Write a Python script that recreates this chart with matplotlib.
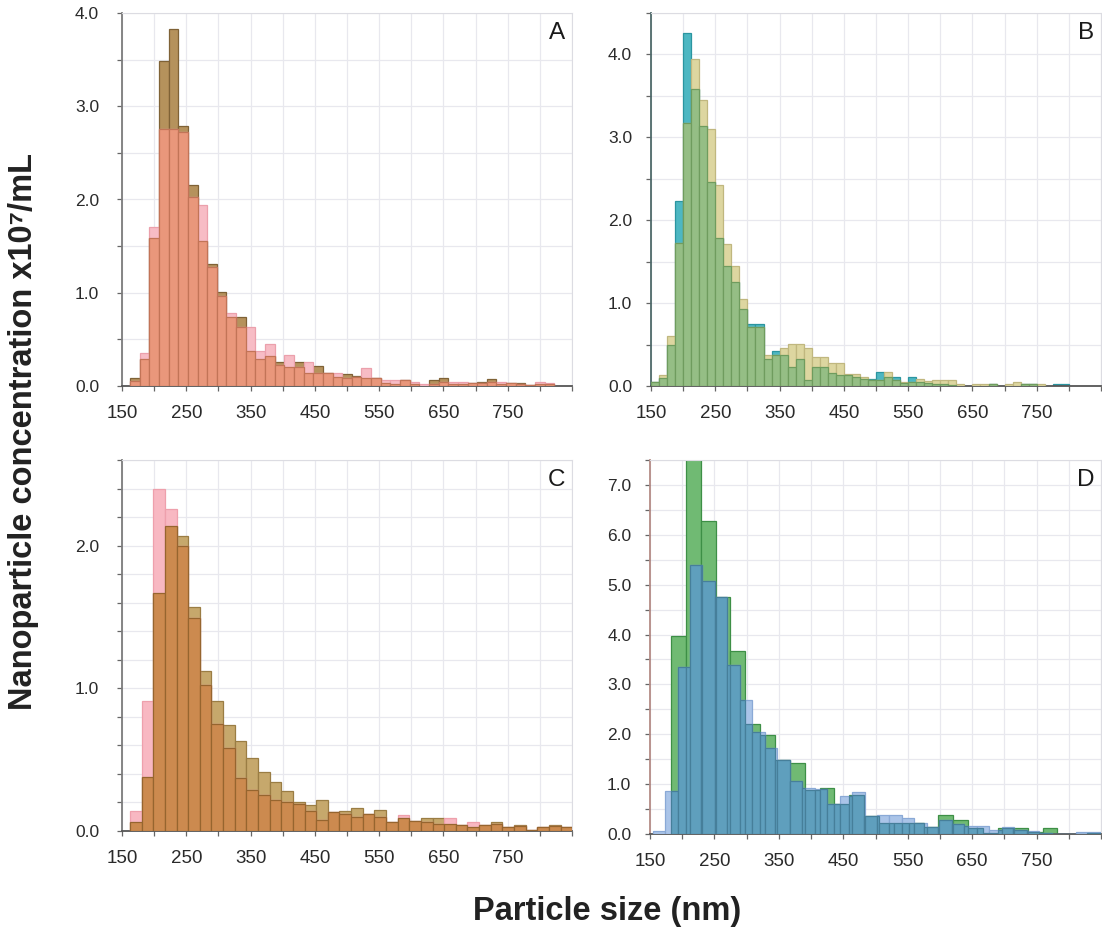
import numpy as np
import matplotlib
matplotlib.use("Agg")
import matplotlib.pyplot as plt

plt.rcParams['font.family'] = ['Liberation Sans', 'DejaVu Sans']

# ---------------- data (concentration x10^7 / mL per size bin) ----------------
# Panel A: bins of 15 nm starting at 162.5 nm
A_start, A_width = 162.5, 15.0
A_brown = [0.09, 0.29, 1.59, 3.49, 3.83, 2.79, 2.16, 1.56, 1.31, 1.01, 0.74, 0.74, 0.38, 0.29,
           0.32, 0.26, 0.20, 0.26, 0.14, 0.21, 0.14, 0.10, 0.13, 0.11, 0.09, 0.09, 0.03, 0.02,
           0.06, 0.02, 0.0, 0.06, 0.09, 0.02, 0.02, 0.03, 0.04, 0.07, 0.02, 0.03, 0.03, 0.01,
           0.02, 0.02]
A_pink = [0.05, 0.35, 1.70, 2.76, 2.76, 2.72, 2.03, 1.94, 1.28, 0.97, 0.78, 0.63, 0.63, 0.38,
          0.45, 0.22, 0.33, 0.20, 0.26, 0.14, 0.14, 0.14, 0.09, 0.10, 0.19, 0.09, 0.06, 0.06,
          0.06, 0.04, 0.02, 0.02, 0.04, 0.04, 0.04, 0.03, 0.03, 0.04, 0.04, 0.03, 0.02, 0.01,
          0.04, 0.03]

# Panel B: bins of 12.5 nm starting at 150 nm
B_start, B_width = 150.0, 12.5
B_teal = [0.05, 0.10, 0.49, 2.23, 4.26, 3.58, 3.14, 2.46, 1.79, 1.45, 1.26, 0.93, 0.75, 0.75,
          0.33, 0.42, 0.37, 0.23, 0.32, 0.07, 0.23, 0.23, 0.16, 0.13, 0.13, 0.11, 0.09, 0.09,
          0.17, 0.11, 0.11, 0.04, 0.11, 0.05, 0.04, 0.03, 0.02, 0.01, 0.0, 0.0, 0.0, 0.0,
          0.02, 0.0, 0.0, 0.0, 0.02, 0.02, 0.0, 0.0, 0.02, 0.02]
B_khaki = [0.05, 0.13, 0.60, 1.72, 3.17, 3.94, 3.45, 3.10, 2.43, 1.71, 1.45, 1.05, 0.71, 0.71,
           0.38, 0.38, 0.46, 0.51, 0.51, 0.46, 0.35, 0.35, 0.28, 0.28, 0.14, 0.14, 0.11, 0.07,
           0.07, 0.17, 0.07, 0.05, 0.05, 0.08, 0.06, 0.07, 0.07, 0.07, 0.02, 0.0, 0.02, 0.03,
           0.03, 0.0, 0.03, 0.05, 0.02, 0.03, 0.03, 0.0, 0.0, 0.0]

# Panel C: bins of 18.1 nm starting at 162.5 nm
C_start, C_width = 162.5, 18.1
C_brown = [0.06, 0.38, 1.67, 2.14, 2.07, 1.57, 1.12, 0.91, 0.74, 0.63, 0.51, 0.41, 0.34, 0.28,
           0.20, 0.18, 0.22, 0.13, 0.14, 0.16, 0.12, 0.15, 0.06, 0.09, 0.07, 0.09, 0.09, 0.05,
           0.04, 0.03, 0.04, 0.06, 0.03, 0.04, 0.01, 0.03, 0.04, 0.03]
C_pink = [0.14, 0.91, 2.40, 2.26, 2.00, 1.49, 1.02, 0.75, 0.58, 0.37, 0.29, 0.25, 0.22, 0.20,
          0.19, 0.14, 0.08, 0.13, 0.12, 0.10, 0.12, 0.10, 0.06, 0.11, 0.07, 0.06, 0.05, 0.09,
          0.04, 0.06, 0.04, 0.05, 0.03, 0.035, 0.01, 0.03, 0.035, 0.025]

# Panel D: green bins of 23.07 nm from 182.5 nm, blue bins of 19.35 nm from 154 nm
D_green_start, D_green_width = 182.5, 23.07
D_green = [3.98, 7.90, 6.27, 4.76, 3.67, 2.20, 1.98, 1.48, 1.43, 0.88, 0.93, 0.61, 0.78, 0.36,
           0.23, 0.23, 0.23, 0.15, 0.39, 0.28, 0.13, 0.03, 0.12, 0.13, 0.04, 0.12, 0.01, 0.01,
           0.03]
D_blue_start, D_blue_width = 154.0, 19.35
D_blue = [0.07, 0.87, 3.35, 5.40, 5.08, 4.76, 3.38, 2.68, 2.05, 1.73, 1.48, 1.06, 0.93, 0.90,
          0.61, 0.76, 0.85, 0.36, 0.39, 0.39, 0.33, 0.23, 0.14, 0.29, 0.20, 0.16, 0.16, 0.09,
          0.15, 0.09, 0.07, 0.03, 0.01, 0.01, 0.05, 0.05]

x_labels = ['150', '250', '350', '450', '550', '650', '750']
panel_letters = ['A', 'B', 'C', 'D']

# ---------------- helpers ----------------
def edges_of(start, width, vals):
    return start + width * np.arange(len(vals) + 1)

def step_eval(edges, vals, pts):
    idx = np.searchsorted(edges, pts, side='right') - 1
    out = np.zeros(len(pts))
    ok = (idx >= 0) & (idx < len(vals))
    out[ok] = np.asarray(vals)[idx[ok]]
    return out

def draw_bars(ax, edges, vals, fc, ec, z):
    vals = np.asarray(vals, dtype=float)
    m = vals > 0
    ax.bar(edges[:-1][m], vals[m], width=np.diff(edges)[m], align='edge',
           color=fc, edgecolor=ec, linewidth=0.9, zorder=z)

def panel(ax, s1, s2, cols, ylim, ymajor, yminor, letter, spine_col, ypad):
    (e1, v1), (e2, v2) = s1, s2
    c1, k1, c2, k2, c12, k12 = cols
    draw_bars(ax, e1, v1, c1, k1, 2)
    draw_bars(ax, e2, v2, c2, k2, 3)
    u = np.union1d(e1, e2)
    mids = 0.5 * (u[:-1] + u[1:])
    mn = np.minimum(step_eval(e1, v1, mids), step_eval(e2, v2, mids))
    draw_bars(ax, u, mn, c12, k12, 4)

    ax.set_xlim(150, 850)
    ax.set_ylim(0, ylim)
    ax.set_xticks(np.arange(150, 851, 50))
    ax.set_xticklabels([s if s in x_labels else '' for s in
                        [str(v) for v in np.arange(150, 851, 50)]])
    ax.set_yticks(np.arange(0, ylim + 1e-9, yminor))
    ax.set_yticklabels(['%.1f' % v if abs(v / ymajor - round(v / ymajor)) < 1e-6 else ''
                        for v in np.arange(0, ylim + 1e-9, yminor)])
    ax.grid(True, color='#e8e8ee', linewidth=0.9, zorder=0)
    ax.set_axisbelow(True)
    ax.tick_params(axis='both', direction='out', length=3.5, width=0.9,
                   colors='#666666', labelcolor='#2a2a2a')
    ax.tick_params(axis='y', pad=ypad, labelsize=12.5)
    ax.tick_params(axis='x', pad=10, labelsize=13.5)
    for s in ['top', 'right']:
        ax.spines[s].set_color('#dcdce2')
        ax.spines[s].set_linewidth(0.8)
    ax.spines['left'].set_color(spine_col)
    ax.spines['left'].set_linewidth(1.3)
    ax.spines['bottom'].set_color('#555555')
    ax.spines['bottom'].set_linewidth(1.3)
    ax.text(0.985, 0.975, letter, transform=ax.transAxes, ha='right', va='top',
            fontsize=17.5, color='#1a1a1a', zorder=10)

# ---------------- figure ----------------
W, H = 1102, 933
fig = plt.figure(figsize=(W / 100, H / 100), dpi=100)

def rect(l, r, t, b):
    return [l / W, 1 - b / H, (r - l) / W, (b - t) / H]

axA = fig.add_axes(rect(122, 572, 13, 386))
axB = fig.add_axes(rect(651, 1101, 13, 386))
axC = fig.add_axes(rect(122, 572, 460, 831))
axD = fig.add_axes(rect(650, 1101, 460, 834))

panel(axA,
      (edges_of(A_start, A_width, A_brown), A_brown),
      (edges_of(A_start, A_width, A_pink), A_pink),
      ('#b5925c', '#7f6236', '#f7bcc5', '#eba0ac', '#e9977b', '#c27457'),
      4.0, 1.0, 0.5, panel_letters[0], '#7c7c7c', 13)
panel(axB,
      (edges_of(B_start, B_width, B_teal), B_teal),
      (edges_of(B_start, B_width, B_khaki), B_khaki),
      ('#4db7c2', '#2b95a0', '#ddd6a0', '#c0b77f', '#95be85', '#6f9c5e'),
      4.5, 1.0, 0.5, panel_letters[1], '#4f6a6a', 10)
panel(axC,
      (edges_of(C_start, C_width, C_brown), C_brown),
      (edges_of(C_start, C_width, C_pink), C_pink),
      ('#c6a86c', '#9a7d44', '#f8b8c2', '#eea0ac', '#cc8a4f', '#96652f'),
      2.6, 1.0, 0.2, panel_letters[2], '#7c7c7c', 13)
panel(axD,
      (edges_of(D_green_start, D_green_width, D_green), D_green),
      (edges_of(D_blue_start, D_blue_width, D_blue), D_blue),
      ('#70ba73', '#3d8f46', '#aac4e8', '#8aa9d6', '#5f9fbd', '#467f9a'),
      7.5, 1.0, 0.5, panel_letters[3], '#b48c86', 10)

fig.text(0.021, 0.538, 'Nanoparticle concentration x10\u2077/mL', rotation=90,
         ha='center', va='center', fontsize=23.5, fontweight='bold', color='#222222')
fig.text(0.551, 0.0235, 'Particle size (nm)', ha='center', va='center',
         fontsize=23.5, fontweight='bold', color='#222222')

fig.savefig('out.png', dpi=100)
